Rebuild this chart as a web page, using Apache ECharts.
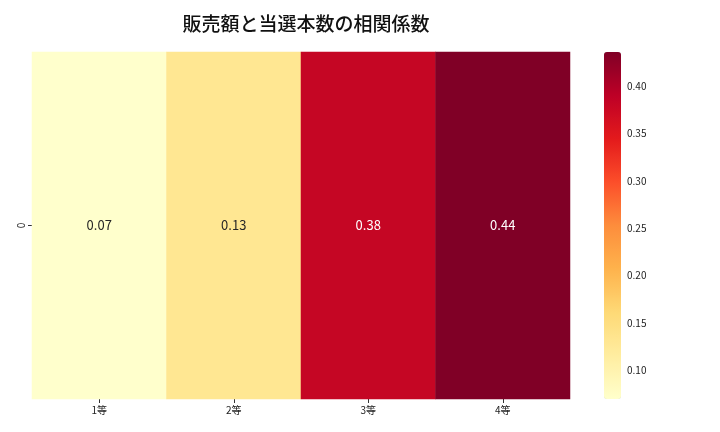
<!DOCTYPE html>
<html><head><meta charset="utf-8">
<script src="https://cdn.jsdelivr.net/npm/echarts@6/dist/echarts.min.js"></script>
<style>html,body{margin:0;padding:0;background:#fff}#c{width:720px;height:432px}</style>
</head><body><div id="c"></div>
<script>
const categories = ['1等','2等','3等','4等'];
const rows = ['0'];
const values = [0.069, 0.13, 0.38, 0.436];
const labels = ['0.07','0.13','0.38','0.44'];
const cbTicks = [0.10,0.15,0.20,0.25,0.30,0.35,0.40];
const vMin = 0.0694, vMax = 0.436;
const palette = ['#ffffcc','#ffeda0','#fed976','#feb24c','#fd8d3c','#fc4e2a','#e31a1c','#bd0026','#800026'];

const font = 'Noto Sans CJK JP';
const data = values.map((v,i)=>[i,0,v]);
const chart = echarts.init(document.getElementById('c'), null, {renderer:'canvas'});
chart.setOption({
  animation:false,
  textStyle:{fontFamily:font},
  title:{text:'販売額と当選本数の相関係数', left:301, top:9, textAlign:'center',
    textStyle:{fontFamily:font, fontSize:19, fontWeight:500, color:'#111'}},
  grid:[
    {left:32, right:150, top:52, bottom:33},
    {left:604, width:17, top:52, bottom:33}
  ],
  xAxis:[
    {type:'category', data:categories, gridIndex:0, axisLine:{show:false},
     axisTick:{show:true, alignWithLabel:true, length:4, lineStyle:{color:'#333'}},
     axisLabel:{fontSize:10, color:'#222', margin:6, fontFamily:font}, splitLine:{show:false}},
    {type:'value', gridIndex:1, show:false, min:0, max:1}
  ],
  yAxis:[
    {type:'category', data:rows, gridIndex:0, axisLine:{show:false},
     axisTick:{show:true, alignWithLabel:true, length:4, lineStyle:{color:'#333'}},
     axisLabel:{fontSize:10, color:'#222', rotate:90, margin:6}, splitLine:{show:false}},
    {type:'value', gridIndex:1, position:'right', min:vMin, max:vMax,
     axisLine:{show:false}, splitLine:{show:false},
     axisTick:{show:true, length:4, lineStyle:{color:'#333'}, customValues:cbTicks},
     axisLabel:{fontSize:10, color:'#222', margin:6, customValues:cbTicks,
       formatter:v=>v.toFixed(2)}}
  ],
  visualMap:{type:'continuous', min:vMin, max:vMax, calculable:false, hoverLink:false,
    seriesIndex:0, left:604, top:52, itemWidth:17, itemHeight:347, padding:0,
    borderRadius:0, text:null, showLabel:false, inRange:{color:palette}},
  series:[
    {type:'heatmap', xAxisIndex:0, yAxisIndex:0,
     data:data.map((d,i)=>({value:d, label:{color: values[i]>0.3?'#ffffff':'#262626'}})),
     label:{show:true, fontSize:13, fontFamily:font,
       formatter:p=>labels[p.dataIndex]},
     itemStyle:{borderWidth:0},
     emphasis:{disabled:true}},
    {type:'line', xAxisIndex:1, yAxisIndex:1, data:[], silent:true}
  ]
});
</script></body></html>
